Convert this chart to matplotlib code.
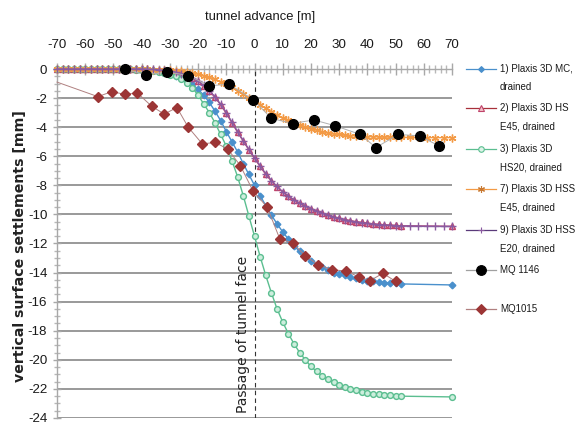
import matplotlib
matplotlib.use('Agg')
import matplotlib.pyplot as plt
from matplotlib.font_manager import FontProperties
from matplotlib.lines import Line2D
from matplotlib.ticker import MultipleLocator, FuncFormatter

# ---------------- data ----------------
x_dense = list(range(-70, 53, 2))
x_short = x_dense + [70]
x_long = x_dense + [55, 58, 61, 64, 67, 70]

mc_drained = [0, 0, 0, 0, 0, 0, 0, 0, 0, 0, 0, 0, 0, -0.01, -0.02,
              -0.03, -0.06, -0.09, -0.15, -0.22, -0.32, -0.45, -0.6, -0.8, -1.05,
              -1.4, -1.8, -2.3, -2.9, -3.55, -4.3, -5.0, -5.7, -6.5, -7.25,
              -8.0, -8.7, -9.4, -10.05, -10.65, -11.2, -11.7, -12.15, -12.55, -12.9,
              -13.2, -13.45, -13.65, -13.85, -14.0, -14.1, -14.2, -14.3, -14.4, -14.48,
              -14.55, -14.6, -14.65, -14.7, -14.72, -14.75, -14.78, -14.85]

hs_e45 = [0, 0, 0, 0, 0, 0, 0, 0, 0, 0, 0, 0, 0, 0, 0, 0,
          -0.02, -0.04, -0.07, -0.11, -0.16, -0.23, -0.32, -0.45, -0.62,
          -0.85, -1.15, -1.5, -1.95, -2.45, -3.05, -3.7, -4.35, -4.95, -5.55,
          -6.15, -6.7, -7.25, -7.7, -8.1, -8.45, -8.75, -9.0, -9.22, -9.42,
          -9.6, -9.75, -9.9, -10.05, -10.17, -10.27, -10.35, -10.43, -10.5, -10.55,
          -10.6, -10.65, -10.68, -10.71, -10.74, -10.76, -10.78, -10.82]

hs20 = [0, 0, 0, 0, 0, 0, 0, 0, 0, 0, 0, 0, 0, -0.02, -0.04,
        -0.07, -0.1, -0.15, -0.2, -0.28, -0.38, -0.5, -0.7, -0.95, -1.3,
        -1.8, -2.4, -3.0, -3.7, -4.5, -5.3, -6.3, -7.4, -8.7, -10.1,
        -11.5, -12.9, -14.2, -15.4, -16.5, -17.4, -18.2, -18.9, -19.5, -20.0,
        -20.45, -20.8, -21.1, -21.35, -21.55, -21.75, -21.9, -22.0, -22.1, -22.2,
        -22.27, -22.33, -22.38, -22.42, -22.45, -22.47, -22.5, -22.55]

hss_e45 = [0, 0, 0, 0, 0, 0, 0, 0, 0, 0, 0, 0, 0, 0,
           -0.01, -0.02, -0.03, -0.04, -0.06, -0.08, -0.1, -0.13, -0.17, -0.22, -0.28,
           -0.35, -0.45, -0.57, -0.72, -0.88, -1.06, -1.27, -1.5, -1.73, -1.97,
           -2.2, -2.45, -2.7, -2.93, -3.15, -3.35, -3.53, -3.7, -3.85, -3.98,
           -4.1, -4.2, -4.3, -4.38, -4.45, -4.5, -4.55, -4.58, -4.61, -4.63,
           -4.65, -4.66, -4.67, -4.68, -4.69, -4.7, -4.7,
           -4.71, -4.71, -4.72, -4.72, -4.72, -4.72]

hss_e20 = [0, 0, 0, 0, 0, 0, 0, 0, 0, 0, 0, 0, 0, 0, 0, 0,
           -0.01, -0.03, -0.06, -0.1, -0.15, -0.22, -0.31, -0.43, -0.6,
           -0.83, -1.12, -1.48, -1.92, -2.42, -3.0, -3.65, -4.3, -4.92, -5.52,
           -6.1, -6.66, -7.2, -7.67, -8.08, -8.44, -8.74, -9.0, -9.23, -9.43,
           -9.61, -9.77, -9.92, -10.06, -10.18, -10.28, -10.37, -10.45, -10.52, -10.57,
           -10.62, -10.66, -10.7, -10.73, -10.75, -10.77, -10.79,
           -10.8, -10.81, -10.82, -10.82, -10.83, -10.83]

mq1146_x = [-46, -38.5, -31, -23.5, -16, -9, -0.5, 6, 13.5, 21, 28.5, 37.5, 43, 51, 58.5, 65.5]
mq1146_y = [0, -0.4, -0.2, -0.45, -1.15, -1.05, -2.1, -3.4, -3.75, -3.5, -3.9, -4.5, -5.4, -4.5, -4.6, -5.3]

mq1015_x = [-70, -55.5, -50.5, -46, -41.5, -36.5, -32, -27.5, -23.5, -18.5, -14, -9.5, -5,
            -0.5, 4.5, 9, 13.5, 18, 22.5, 27.5, 32.5, 37, 41, 45.5, 50]
mq1015_y = [-0.9, -1.9, -1.55, -1.75, -1.65, -2.55, -3.1, -2.65, -4.0, -5.15, -5.05, -5.5, -6.65,
            -8.4, -9.5, -11.7, -11.95, -12.85, -13.45, -13.8, -13.9, -14.3, -14.55, -14.05, -14.6]

labels = ["1) Plaxis 3D MC,\ndrained", "2) Plaxis 3D HS\nE45, drained",
          "3) Plaxis 3D\nHS20, drained", "7) Plaxis 3D HSS\nE45, drained",
          "9) Plaxis 3D HSS\nE20, drained", "MQ 1146", "MQ1015"]
x_ticks = [-70, -60, -50, -40, -30, -20, -10, 0, 10, 20, 30, 40, 50, 60, 70]
y_ticks = [0, -2, -4, -6, -8, -10, -12, -14, -16, -18, -20, -22, -24]

# ---------------- style ----------------
def fp(size):
    return FontProperties(family=['Liberation Sans', 'DejaVu Sans'], size=size)


plt.rcParams['axes.unicode_minus'] = False

W, H = 577, 423
fig = plt.figure(figsize=(W / 100, H / 100), dpi=100)
ax = fig.add_axes([57 / W, 1 - 418 / H, (452 - 57) / W, (418 - 69) / H])

C_BLUE = '#4A90CC'
C_RED = '#C0436A'
C_GREEN = '#5BBE90'
C_ORANGE = '#F39A45'
C_PURPLE = '#8A5AA0'
C_MQ15 = '#9C3535'

series = [
    dict(x=x_short, y=mc_drained, color=C_BLUE, marker='D', ms=3.4, mfc=C_BLUE, mec=C_BLUE),
    dict(x=x_short, y=hs_e45, color=C_RED, marker='^', ms=4.6, mfc='#E8A0B8', mec=C_RED),
    dict(x=x_short, y=hs20, color=C_GREEN, marker='o', ms=4.2, mfc='#CDEEDD', mec=C_GREEN),
    dict(x=x_long, y=hss_e45, color=C_ORANGE, marker=(6, 2, 0), ms=5.6, mfc=C_ORANGE, mec=C_ORANGE),
    dict(x=x_long, y=hss_e20, color=C_PURPLE, marker='+', ms=5.4, mfc=C_PURPLE, mec=C_PURPLE),
]
for s in series:
    ax.plot(s['x'], s['y'], color=s['color'], lw=1.0, marker=s['marker'], ms=s['ms'],
            mfc=s['mfc'], mec=s['mec'], mew=1.0, clip_on=False, zorder=3)

ax.plot(mq1146_x, mq1146_y, color='#B0B0B0', lw=0.7, marker='o', ms=7.0,
        mfc='black', mec='black', clip_on=False, zorder=5)
ax.plot(mq1015_x, mq1015_y, color='#B08080', lw=0.7, marker='D', ms=5.4,
        mfc=C_MQ15, mec=C_MQ15, markevery=list(range(1, len(mq1015_x))),
        clip_on=False, zorder=4)

ax.axvline(0, color='#333333', lw=0.8, ls=(0, (4, 3)), zorder=2)
ax.text(-4.0, -23.65, "Passage of tunnel face", rotation=90, ha='center', va='bottom',
        fontsize=10, family='DejaVu Sans', color='#222222')

ax.set_xlim(-70, 70)
ax.set_ylim(-24, 0)
ax.xaxis.set_ticks_position('top')
ax.xaxis.set_label_position('top')
ax.set_xticks(x_ticks)
ax.xaxis.set_minor_locator(MultipleLocator(2))
ax.set_yticks(y_ticks)
ax.yaxis.set_minor_locator(MultipleLocator(0.5))
ax.yaxis.set_major_formatter(FuncFormatter(lambda v, p: "%d" % v))
ax.xaxis.set_major_formatter(FuncFormatter(lambda v, p: "%d" % v))

ax.tick_params(axis='x', which='major', direction='inout', length=8, width=1,
               color='#A8A8A8', pad=9, labelcolor='#1a1a1a')
ax.tick_params(axis='x', which='minor', direction='inout', length=5.5, width=1, color='#B8B8B8')
ax.tick_params(axis='y', which='major', direction='inout', length=6, width=1,
               color='#A8A8A8', pad=4.0, labelcolor='#1a1a1a')
ax.tick_params(axis='y', which='minor', direction='inout', length=4.5, width=1, color='#B8B8B8')
for lab in ax.get_xticklabels() + ax.get_yticklabels():
    lab.set_fontproperties(fp(9.6))

for side in ['bottom', 'right']:
    ax.spines[side].set_visible(False)
for side in ['top', 'left']:
    ax.spines[side].set_color('#A8A8A8')
    ax.spines[side].set_linewidth(1.0)

ax.yaxis.grid(True, color='#888888', lw=1.2, zorder=0)
ax.set_axisbelow(True)
ax.patch.set_alpha(0)

fig.text(260 / W, 1 - 17 / H, "tunnel advance [m]", ha='center', va='center',
         fontproperties=fp(9.4), color='#1a1a1a')
fig.text(20.5 / W, 1 - 246 / H, "vertical surface settlements [mm]", rotation=90,
         ha='center', va='center', fontsize=10.2, fontweight='bold',
         family='DejaVu Sans', color='#222222')

# ---------------- legend (manual) ----------------
leg_styles = [
    dict(color=C_BLUE, marker='D', ms=3.0, mfc=C_BLUE, mec=C_BLUE),
    dict(color='#A8303A', marker='^', ms=4.0, mfc='#F0C0C8', mec=C_RED),
    dict(color=C_GREEN, marker='o', ms=4.0, mfc='#DDF3E8', mec=C_GREEN),
    dict(color=C_ORANGE, marker=(6, 2, 0), ms=5.0, mfc=C_ORANGE, mec='#C87830'),
    dict(color='#5A3A7A', marker='+', ms=5.0, mfc=C_PURPLE, mec=C_PURPLE),
    dict(color='#A0A0A0', marker='o', ms=7.0, mfc='black', mec='black'),
    dict(color='#B08080', marker='D', ms=5.0, mfc=C_MQ15, mec=C_MQ15),
]
leg_y = [69, 108, 149, 189, 230, 270, 309]
for lab, st, yy in zip(labels, leg_styles, leg_y):
    yf = 1 - yy / H
    fig.add_artist(Line2D([466 / W, 496 / W], [yf, yf], transform=fig.transFigure,
                          color=st['color'], lw=0.9))
    fig.add_artist(Line2D([481 / W], [yf], transform=fig.transFigure, color=st['color'],
                          marker=st['marker'], ms=st['ms'], mfc=st['mfc'], mec=st['mec'],
                          mew=0.8, lw=0))
    for i, ln in enumerate(lab.split("\n")):
        fig.text(500 / W, 1 - (yy + 18.5 * i) / H, ln, ha='left', va='center',
                 fontproperties=fp(7.0), color='#1a1a1a')

fig.savefig('out.png', dpi=100)
